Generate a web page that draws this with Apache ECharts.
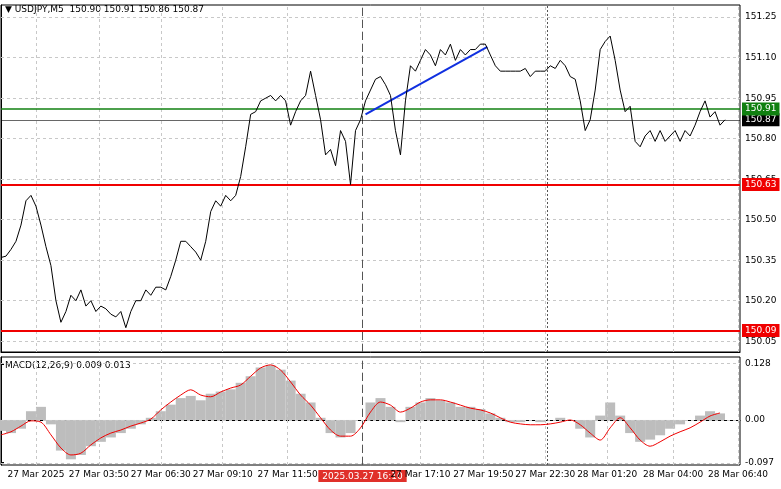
<!DOCTYPE html><html><head><meta charset="utf-8"><script src="https://cdn.jsdelivr.net/npm/echarts@6/dist/echarts.min.js"></script>
<style>html,body{margin:0;background:#fff}#c{width:781px;height:489px}</style></head><body><div id="c"></div><script>
const price=[150.36,150.365,150.39,150.42,150.48,150.57,150.59,150.55,150.48,150.40,150.33,150.20,150.12,150.16,150.22,150.20,150.24,150.18,150.20,150.16,150.18,150.17,150.15,150.14,150.16,150.10,150.16,150.20,150.20,150.24,150.22,150.25,150.25,150.24,150.29,150.35,150.42,150.42,150.40,150.38,150.35,150.42,150.53,150.57,150.55,150.59,150.57,150.59,150.66,150.77,150.89,150.90,150.94,150.95,150.96,150.94,150.96,150.94,150.85,150.90,150.94,150.96,151.05,150.96,150.87,150.74,150.76,150.70,150.83,150.79,150.63,150.83,150.87,150.94,150.98,151.02,151.03,151.00,150.96,150.83,150.74,150.94,151.07,151.05,151.09,151.13,151.11,151.07,151.13,151.11,151.15,151.09,151.13,151.11,151.13,151.13,151.15,151.15,151.11,151.07,151.05,151.05,151.05,151.05,151.05,151.06,151.03,151.05,151.05,151.05,151.07,151.06,151.09,151.07,151.03,151.02,150.94,150.83,150.87,150.98,151.13,151.16,151.18,151.09,150.98,150.90,150.92,150.79,150.77,150.81,150.83,150.79,150.83,150.79,150.81,150.83,150.79,150.83,150.81,150.85,150.90,150.94,150.88,150.90,150.85,150.87];
const macdHist=[-0.025,-0.03,-0.02,0.02,0.03,-0.01,-0.07,-0.09,-0.08,-0.06,-0.05,-0.04,-0.03,-0.02,-0.01,0.005,0.02,0.035,0.05,0.055,0.045,0.06,0.065,0.07,0.085,0.1,0.12,0.125,0.115,0.09,0.06,0.04,0.005,-0.03,-0.04,-0.03,0.0,0.04,0.05,0.03,-0.005,0.03,0.04,0.05,0.045,0.04,0.03,0.03,0.025,0.015,0.005,-0.005,-0.005,0.0,-0.005,0.0,0.005,0.0,-0.02,-0.04,0.01,0.04,0.01,-0.03,-0.05,-0.045,-0.035,-0.02,-0.01,0.0,0.01,0.02,0.015];
const macdSignal=[-0.034,-0.027,-0.014,-0.002,-0.005,-0.034,-0.064,-0.08,-0.076,-0.057,-0.041,-0.03,-0.023,-0.014,-0.007,0.002,0.023,0.041,0.057,0.069,0.057,0.053,0.064,0.073,0.08,0.1,0.119,0.126,0.114,0.087,0.057,0.034,0.005,-0.023,-0.037,-0.037,-0.018,0.018,0.041,0.034,0.018,0.027,0.041,0.046,0.046,0.041,0.034,0.027,0.023,0.016,0.005,-0.005,-0.009,-0.011,-0.011,-0.009,-0.005,0,-0.011,-0.03,-0.046,-0.018,0.005,-0.018,-0.046,-0.06,-0.05,-0.037,-0.027,-0.018,-0.005,0.009,0.016];
const timeLabels=['27 Mar 2025','27 Mar 03:50','27 Mar 06:30','27 Mar 09:10','27 Mar 11:50','2025.03.27 16:10','27 Mar 17:10','27 Mar 19:50','27 Mar 22:30','28 Mar 01:20','28 Mar 04:00','28 Mar 06:40'];
const timePos=[7,19.6,32,44.4,57.4,72.4,84,96.6,109,121.4,134.6,147.6];
const priceTicks=[150.05,150.20,150.35,150.50,150.65,150.80,150.95,151.10,151.25];
const macdTicks=[-0.097,0,0.128];
const levels={green:150.91,bid:150.87,red1:150.63,red2:150.09};
const trend=[[73,150.89],[97.4,151.14]];
const vSpecial=[72.4,109.4];

const F='DejaVu Sans';
const ch=echarts.init(document.getElementById('c'));
const px=price.map((v,i)=>[i,v]);
const hx=macdHist.map((v,i)=>[i*2,v]);
const sx=macdSignal.map((v,i)=>[i*2,v]);
const xBase={type:'value',min:0,max:148,axisLine:{show:true,lineStyle:{color:'#000'}},splitLine:{show:false},axisTick:{show:false},axisLabel:{show:false}};
function lvl(v,col,lw,txtCol){return {yAxis:v,lineStyle:{color:col,width:lw,type:'solid'},label:{show:true,position:'end',formatter:v.toFixed(2),backgroundColor:col,color:txtCol,fontSize:9,fontFamily:F,padding:[2,3],distance:2}};}
const vlines=[...timePos.map(v=>({xAxis:v,lineStyle:{color:'#c8c8c8',type:[3,3],width:1},label:{show:false}})),
  {xAxis:vSpecial[0],lineStyle:{color:'#555',type:[8,4],width:1},label:{show:false}},
  {xAxis:vSpecial[1],lineStyle:{color:'#555',type:[2,2],width:1},label:{show:false}}];
ch.setOption({animation:false,backgroundColor:'#fff',
grid:[{left:1,right:41,top:5,bottom:137,show:true,borderColor:'#000',borderWidth:1},{left:1,right:41,top:357,bottom:24,show:true,borderColor:'#000',borderWidth:1}],
xAxis:[Object.assign({gridIndex:0},xBase),Object.assign({gridIndex:1},xBase,{axisLabel:{show:true,customValues:timePos,fontSize:9,fontFamily:F,color:'#000',margin:5,formatter:(v)=>{const i=timePos.indexOf(v);return i===5?'{h|'+timeLabels[i]+'}':timeLabels[i];},rich:{h:{backgroundColor:'#e0302a',color:'#fff',padding:[2,4,1,4],fontSize:9,fontFamily:F}}},axisTick:{show:true,customValues:timePos,length:3,lineStyle:{color:'#000'}}})],
yAxis:[{gridIndex:0,type:'value',position:'right',min:150.01,max:151.295,axisLine:{show:true,lineStyle:{color:'#000'}},splitLine:{show:false},axisTick:{show:true,customValues:priceTicks,length:3,lineStyle:{color:'#000'}},axisLabel:{customValues:priceTicks,fontSize:9,fontFamily:F,color:'#000',margin:5,formatter:v=>v.toFixed(2)}},
{gridIndex:1,type:'value',position:'right',min:-0.103,max:0.144,axisLine:{show:true,lineStyle:{color:'#000'}},splitLine:{show:false},axisTick:{show:true,customValues:macdTicks,length:3,lineStyle:{color:'#000'}},axisLabel:{customValues:macdTicks,fontSize:9,fontFamily:F,color:'#000',margin:5,formatter:v=>v===0?'0.00':String(v)}}],
series:[
{type:'line',xAxisIndex:0,yAxisIndex:0,data:px,symbol:'none',lineStyle:{color:'#000',width:1},z:5,
 markLine:{silent:true,symbol:'none',animation:false,data:[
  ...priceTicks.map(v=>({yAxis:v,lineStyle:{color:'#c8c8c8',type:[3,3],width:1},label:{show:false}})),
  ...vlines,
  lvl(levels.bid,'#000',0.6,'#fff'),
  lvl(levels.green,'#108010',1.5,'#fff'),
  lvl(levels.red1,'#f00000',2,'#fff'),
  lvl(levels.red2,'#f00000',2,'#fff'),
  [{coord:trend[0],lineStyle:{color:'#1030e0',width:2,type:'solid'},label:{show:false}},{coord:trend[1]}]
 ]}},
{type:'bar',xAxisIndex:1,yAxisIndex:1,data:hx,barWidth:10,itemStyle:{color:'#bdbdbd'},
 markLine:{silent:true,symbol:'none',data:[...macdTicks.map(v=>({yAxis:v,lineStyle:{color:'#c8c8c8',type:[3,3],width:1},label:{show:false}})),...vlines]}},
{type:'line',xAxisIndex:1,yAxisIndex:1,data:sx,symbol:'none',smooth:0.3,lineStyle:{color:'#f00000',width:1},z:5}
],
graphic:[{type:'text',left:5,top:5,style:{text:'▼ USDJPY,M5  150.90 150.91 150.86 150.87',font:'9px DejaVu Sans',fill:'#000'}},
{type:'text',left:5,top:361,style:{text:'MACD(12,26,9) 0.009 0.013',font:'9px DejaVu Sans',fill:'#000'}}]
});
</script></body></html>
